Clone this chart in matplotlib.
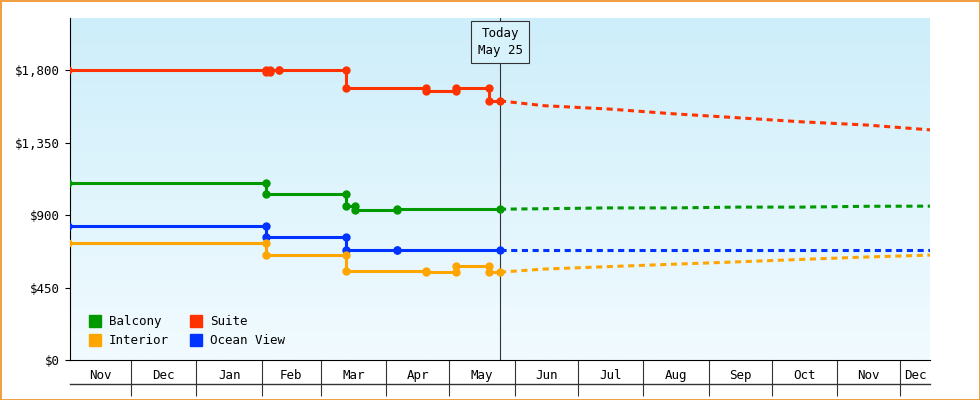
import matplotlib
matplotlib.use("Agg")
import matplotlib.pyplot as plt
import matplotlib.dates as mdates
import numpy as np
from datetime import date

# --- data (step history up to today, forecast afterwards) ---
today = date(2025, 5, 25)

suite_dates = [date(2024, 11, 1), date(2025, 2, 3), date(2025, 2, 5), date(2025, 2, 9),
               date(2025, 3, 13), date(2025, 4, 20), date(2025, 5, 4), date(2025, 5, 20), today]
suite_vals = [1800, 1790, 1800, 1800, 1690, 1670, 1690, 1610, 1610]

balcony_dates = [date(2024, 11, 1), date(2025, 2, 3), date(2025, 3, 13), date(2025, 3, 17),
                 date(2025, 4, 6), today]
balcony_vals = [1100, 1030, 956, 931, 937, 937]

ocean_dates = [date(2024, 11, 1), date(2025, 2, 3), date(2025, 3, 13), date(2025, 4, 6), today]
ocean_vals = [832, 763, 683, 683, 683]

interior_dates = [date(2024, 11, 1), date(2025, 2, 3), date(2025, 3, 13), date(2025, 4, 20),
                  date(2025, 5, 4), date(2025, 5, 20), today]
interior_vals = [726, 652, 552, 546, 583, 546, 546]

fc_dates = [today, date(2025, 6, 15), date(2025, 7, 15), date(2025, 8, 15), date(2025, 9, 15),
            date(2025, 10, 15), date(2025, 11, 15), date(2025, 12, 15)]
suite_fc = [1610, 1580, 1560, 1530, 1505, 1480, 1460, 1430]
balcony_fc = [937, 940, 945, 945, 950, 950, 955, 956]
ocean_fc = [683, 683, 683, 683, 683, 683, 683, 683]
interior_fc = [546, 565, 580, 595, 610, 625, 640, 652]

series = [
    ("Suite", "#ff3300", suite_dates, suite_vals, suite_fc),
    ("Balcony", "#009900", balcony_dates, balcony_vals, balcony_fc),
    ("Ocean View", "#0033ff", ocean_dates, ocean_vals, ocean_fc),
    ("Interior", "#ffa500", interior_dates, interior_vals, interior_fc),
]

month_starts = [date(2024, 11, 1), date(2024, 12, 1), date(2025, 1, 1), date(2025, 2, 1),
                date(2025, 3, 1), date(2025, 4, 1), date(2025, 5, 1), date(2025, 6, 1),
                date(2025, 7, 1), date(2025, 8, 1), date(2025, 9, 1), date(2025, 10, 1),
                date(2025, 11, 1), date(2025, 12, 1), date(2025, 12, 15)]
month_labels = ["Nov", "Dec", "Jan", "Feb", "Mar", "Apr", "May", "Jun", "Jul", "Aug",
                "Sep", "Oct", "Nov", "Dec"]

plt.rcParams["font.family"] = ["DejaVu Sans Mono"]
fig = plt.figure(figsize=(9.8, 4), dpi=100)
fig.patch.set_edgecolor("#f0a040")
fig.patch.set_linewidth(2)
ax = fig.add_axes([70 / 980, 40 / 400, 860 / 980, 342 / 400])

x0, x1 = mdates.date2num(date(2024, 11, 2)), mdates.date2num(date(2025, 12, 15))
ymax = 2125
grad = np.linspace(0, 1, 256).reshape(-1, 1)
ax.imshow(grad, extent=[x0, x1, 0, ymax], aspect="auto", origin="lower",
          cmap=matplotlib.colors.LinearSegmentedColormap.from_list("bg", ["#f2fbff", "#cdeefa"]),
          zorder=0)

for name, col, d, v, fc in series:
    ax.step(d, v, where="post", color=col, lw=2.2, zorder=3)
    ax.plot(d, v, "o", color=col, ms=5, zorder=4)
    ax.plot(d[1:-1], v[:-2], "o", color=col, ms=5, zorder=4)
    ax.plot(fc_dates, fc, color=col, lw=2.2, ls=(0, (2, 1.5)), zorder=3)

ax.set_xlim(x0, x1)
ax.set_ylim(0, ymax)
ax.set_yticks([0, 450, 900, 1350, 1800])
ax.set_yticklabels(["$0", "$450", "$900", "$1,350", "$1,800"], fontsize=9)
for s in ["top", "right"]:
    ax.spines[s].set_visible(False)

# month boxes below the axis
ax.set_xticks([mdates.date2num(m) for m in month_starts[1:-1]])
ax.tick_params(axis="x", length=26, labelbottom=False, color="#333")
ax.plot([x0, x1], [-0.07 * ymax * 1.0] * 2, color="#333", lw=1, clip_on=False,
        transform=ax.transData)
centers = [(mdates.date2num(max(a, date(2024, 11, 2))) + mdates.date2num(b)) / 2
           for a, b in zip(month_starts[:-1], month_starts[1:])]
for c, lab in zip(centers, month_labels):
    ax.text(c, -0.045, lab, transform=ax.get_xaxis_transform(), ha="center", va="center",
            fontsize=9)
ax.set_yticks([], minor=True)

# today marker
tx = mdates.date2num(today)
ax.axvline(tx, color="#333", lw=0.8, zorder=2)
ax.text(tx, 0.93, "Today\nMay 25", transform=ax.get_xaxis_transform(), ha="center",
        va="center", fontsize=9, linespacing=1.4,
        bbox=dict(boxstyle="square,pad=0.5", fc="#d8f2fc", ec="#333", lw=0.8), zorder=5)

from matplotlib.lines import Line2D
handles = [Line2D([], [], marker="s", ls="", color=c, ms=8) for c in
           ["#009900", "#ffa500", "#ff3300", "#0033ff"]]
ax.legend(handles, ["Balcony", "Interior", "Suite", "Ocean View"], ncol=2, loc="lower left",
          frameon=False, fontsize=9, handletextpad=0.1, columnspacing=1.2,
          borderaxespad=0.6, labelspacing=0.5)

fig.savefig("out.png", dpi=100, edgecolor=fig.get_edgecolor())
